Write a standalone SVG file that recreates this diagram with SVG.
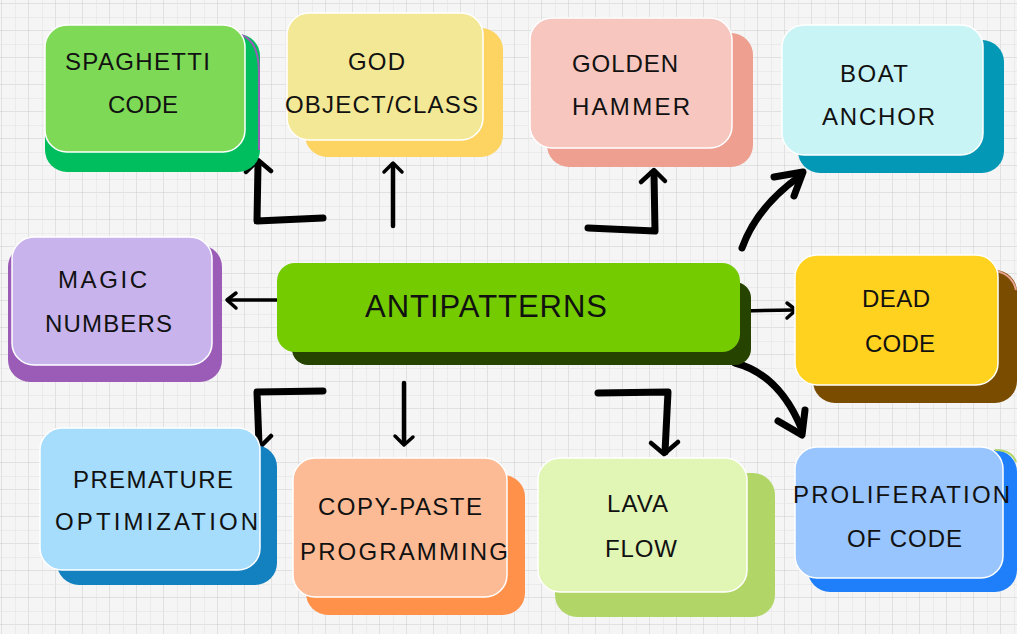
<svg xmlns="http://www.w3.org/2000/svg" width="1017" height="634" viewBox="0 0 1017 634">
<defs>
<pattern id="grid" x="2" y="4" width="27" height="27" patternUnits="userSpaceOnUse">
<path d="M27 0 V27 M0 27 H27" fill="none" stroke="#cdcdcd" stroke-width="1"/>
<path d="M13.5 0 V27 M0 13.5 H27" fill="none" stroke="#e4e4e4" stroke-width="0.6"/>
</pattern>
</defs>
<style>
.front{stroke:#ffffff;stroke-width:1.5}
.lbl{font-family:"Liberation Sans","DejaVu Sans",sans-serif;font-size:24px;fill:#111;text-anchor:start}
.big{font-size:31px}
.ln{fill:none;stroke:#000;stroke-linecap:round;stroke-linejoin:round}
.t3{stroke-width:3.5}
.t4{stroke-width:4.5}
.t6{stroke-width:7}
</style>
<rect width="1017" height="634" fill="#f5f5f5"/>
<rect width="1017" height="634" fill="url(#grid)"/>

<g id="connectors">
<path class="ln t6" d="M323 218 L257 221 L258 164"/>
<path class="ln t4" d="M246 172 L258 160 L271 171"/>
<path class="ln t4" d="M393 226 L393 166"/>
<path class="ln t3" d="M384 172 L393 163 L402 172"/>
<path class="ln t6" d="M588 228 L655 231 L654 174"/>
<path class="ln t4" d="M641 182 L654 170 L665 181"/>
<path class="ln t6" d="M742 248 C752 220 772 196 800 176"/>
<path class="ln t6" d="M774 177 L803 172 L794 196"/>
<path class="ln t3" d="M280 300 L228 300"/>
<path class="ln t3" d="M236 293 L227 300 L236 308"/>
<path class="ln t3" d="M742 311 L795 310"/>
<path class="ln t3" d="M787 303 L796 310 L787 318"/>
<path class="ln t6" d="M735 363 C770 372 790 400 802 430"/>
<path class="ln t6" d="M778 421 L802 435 L805 410"/>
<path class="ln t6" d="M323 391 L257 392 L259 445"/>
<path class="ln t4" d="M246 436 L259 448 L271 436"/>
<path class="ln t4" d="M404 383 L404 442"/>
<path class="ln t3" d="M395 436 L404 445 L413 437"/>
<path class="ln t6" d="M598 393 L668 392 L665 452"/>
<path class="ln t4" d="M651 443 L664 454 L678 442"/>
</g>

<g id="n-spaghetti">
<rect x="45" y="34" width="215" height="138" rx="22" fill="#00be5e"/>
<path d="M238 34 Q258 38 259 70 L259 150" fill="none" stroke="#9b5cb8" stroke-width="2"/>
<rect class="front" x="45" y="25" width="200" height="127" rx="22" fill="#7ed957"/>
<text class="lbl" x="65" y="70" textLength="145" lengthAdjust="spacing">SPAGHETTI</text>
<text class="lbl" x="108" y="113" textLength="70" lengthAdjust="spacing">CODE</text>
</g>

<g id="n-god">
<rect x="305" y="28" width="198" height="129" rx="22" fill="#fdd462"/>
<rect class="front" x="287" y="13" width="196" height="127" rx="22" fill="#f3e895"/>
<text class="lbl" x="348" y="70" textLength="57" lengthAdjust="spacing">GOD</text>
<text class="lbl" x="285" y="113" textLength="193" lengthAdjust="spacing">OBJECT/CLASS</text>
</g>

<g id="n-golden">
<rect x="547" y="33" width="206" height="134" rx="22" fill="#ee9f8f"/>
<rect class="front" x="530" y="18" width="202" height="130" rx="22" fill="#f6c6bf"/>
<text class="lbl" x="572" y="72" textLength="106" lengthAdjust="spacing">GOLDEN</text>
<text class="lbl" x="572" y="115" textLength="118" lengthAdjust="spacing">HAMMER</text>
</g>

<g id="n-boat">
<rect x="798" y="40" width="206" height="133" rx="22" fill="#0398b5"/>
<rect class="front" x="782" y="25" width="201" height="130" rx="22" fill="#c9f4f5"/>
<text class="lbl" x="840" y="82" textLength="68" lengthAdjust="spacing">BOAT</text>
<text class="lbl" x="822" y="125" textLength="113" lengthAdjust="spacing">ANCHOR</text>
</g>

<g id="n-magic">
<rect x="8" y="245" width="214" height="137" rx="22" fill="#9b5cb8"/>
<rect class="front" x="12" y="237" width="200" height="128" rx="22" fill="#c8b3ed"/>
<text class="lbl" x="58" y="288" textLength="89" lengthAdjust="spacing">MAGIC</text>
<text class="lbl" x="45" y="332" textLength="127" lengthAdjust="spacing">NUMBERS</text>
</g>

<g id="n-antipatterns">
<rect x="292" y="282" width="459" height="83" rx="16" fill="#264400"/>
<rect x="277" y="263" width="463" height="89" rx="18" fill="#74cb00"/>
<text class="lbl big" x="365" y="317" textLength="242" lengthAdjust="spacing">ANTIPATTERNS</text>
</g>

<g id="n-dead">
<rect x="813" y="270" width="204" height="133" rx="22" fill="#7a4c00"/>
<path d="M990 270 Q1012 272 1016 290" fill="none" stroke="#e8a08f" stroke-width="2"/>
<rect class="front" x="795" y="255" width="203" height="130" rx="22" fill="#ffd21f"/>
<text class="lbl" x="862" y="307" textLength="68" lengthAdjust="spacing">DEAD</text>
<text class="lbl" x="865" y="352" textLength="70" lengthAdjust="spacing">CODE</text>
</g>

<g id="n-premature">
<rect x="57" y="445" width="220" height="140" rx="22" fill="#1380c0"/>
<rect class="front" x="40" y="428" width="220" height="142" rx="22" fill="#a6dcfc"/>
<text class="lbl" x="73" y="488" textLength="160" lengthAdjust="spacing">PREMATURE</text>
<text class="lbl" x="55" y="530" textLength="203" lengthAdjust="spacing">OPTIMIZATION</text>
</g>

<g id="n-copypaste">
<rect x="306" y="475" width="219" height="140" rx="22" fill="#ff914b"/>
<rect class="front" x="293" y="458" width="214" height="139" rx="22" fill="#fdbb95"/>
<text class="lbl" x="318" y="515" textLength="164" lengthAdjust="spacing">COPY-PASTE</text>
<text class="lbl" x="300" y="560" textLength="208" lengthAdjust="spacing">PROGRAMMING</text>
</g>

<g id="n-lava">
<rect x="555" y="473" width="220" height="144" rx="22" fill="#b1d667"/>
<rect class="front" x="538" y="458" width="209" height="134" rx="22" fill="#e1f5b4"/>
<text class="lbl" x="607" y="512" textLength="61" lengthAdjust="spacing">LAVA</text>
<text class="lbl" x="605" y="557" textLength="72" lengthAdjust="spacing">FLOW</text>
</g>

<g id="n-proliferation">
<rect x="808" y="450" width="209" height="142" rx="22" fill="#1f7ffb"/>
<path d="M995 450 Q1012 450 1016 462" fill="none" stroke="#b1d667" stroke-width="2"/>
<rect class="front" x="795" y="447" width="208" height="131" rx="22" fill="#98c5fd"/>
<text class="lbl" x="793" y="503" textLength="217" lengthAdjust="spacing">PROLIFERATION</text>
<text class="lbl" x="847" y="547" textLength="115" lengthAdjust="spacing">OF CODE</text>
</g>
</svg>
